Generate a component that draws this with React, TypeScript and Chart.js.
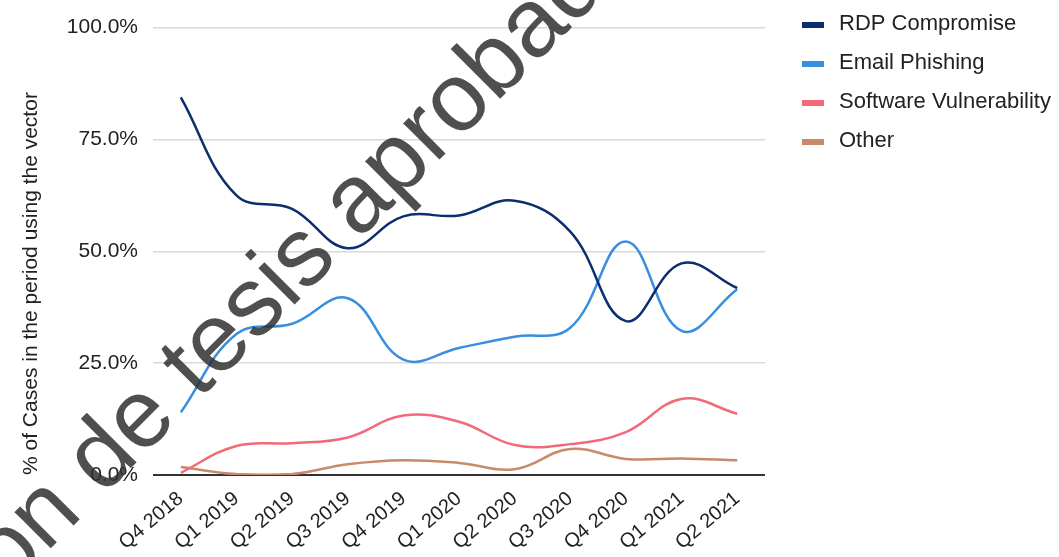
import React, { useEffect, useRef } from "react";
import { Chart, registerables } from "chart.js";

Chart.register(...registerables);

const quarters = [
  "Q4 2018", "Q1 2019", "Q2 2019", "Q3 2019", "Q4 2019", "Q1 2020",
  "Q2 2020", "Q3 2020", "Q4 2020", "Q1 2021", "Q2 2021",
];
const rdpCompromise = [84.4, 62.5, 59.5, 50.7, 57.8, 58.0, 61.3, 54.4, 34.4, 47.3, 41.8];
const emailPhishing = [14.0, 31.5, 33.8, 39.5, 25.8, 28.4, 30.9, 32.9, 52.2, 32.2, 41.5];
const softwareVulnerability = [0.5, 6.5, 7.1, 8.4, 13.3, 11.9, 6.7, 6.9, 9.6, 17.0, 13.7];
const otherVector = [1.8, 0.2, 0.2, 2.4, 3.3, 2.7, 1.3, 5.8, 3.6, 3.7, 3.3];
const yTicks = [0, 25, 50, 75, 100];

const seriesNames = ["RDP Compromise", "Email Phishing", "Software Vulnerability", "Other"];
const seriesColors = ["#0b2e6f", "#3a8ee0", "#f06a78", "#c98a6c"];
const seriesValues = [rdpCompromise, emailPhishing, softwareVulnerability, otherVector];

const watermarkText = "ción de tesis aprobada";
const FONT = "'Liberation Sans', Arial, sans-serif";

// Legend drawn to the right of the plot area: short colour bar + label
const sideLegend = {
  id: "sideLegend",
  afterDraw(chart: any) {
    const { ctx } = chart;
    ctx.save();
    ctx.font = `22px ${FONT}`;
    ctx.textBaseline = "middle";
    ctx.textAlign = "left";
    chart.data.datasets.forEach((ds: any, i: number) => {
      const y = 25 + i * 39;
      ctx.fillStyle = ds.borderColor;
      ctx.fillRect(802, y - 3, 22, 6);
      ctx.fillStyle = "#222";
      ctx.fillText(ds.label, 839, y - 1);
    });
    ctx.restore();
  },
};

// Diagonal watermark across the plot
const watermark = {
  id: "watermark",
  afterDraw(chart: any) {
    const { ctx } = chart;
    ctx.save();
    ctx.font = `97px ${FONT}`;
    ctx.fillStyle = "rgba(48,48,48,0.85)";
    ctx.textBaseline = "alphabetic";
    ctx.translate(137, 462);
    ctx.rotate(-Math.PI / 4);
    const x0 = -ctx.measureText("ción d").width + 6;
    ctx.fillText(watermarkText, x0, 0);
    ctx.restore();
  },
};

export default function App() {
  const ref = useRef<HTMLCanvasElement>(null);

  useEffect(() => {
    if (!ref.current) return;
    const chart = new Chart(ref.current, {
      type: "line",
      data: {
        labels: quarters,
        datasets: seriesNames.map((name, i) => ({
          label: name,
          data: seriesValues[i],
          borderColor: seriesColors[i],
          backgroundColor: seriesColors[i],
          borderWidth: 2.5,
          pointRadius: 0,
          tension: 0.4,
          fill: false,
        })),
      },
      options: {
        animation: false,
        responsive: false,
        layout: { padding: { left: 0, right: 294, top: 24, bottom: 0 } },
        plugins: { legend: { display: false }, tooltip: { enabled: false } },
        scales: {
          x: {
            offset: true,
            grid: { display: false },
            border: { display: false },
            afterFit: (s: any) => { s.height = 82; },
            ticks: {
              minRotation: 40,
              maxRotation: 40,
              padding: 4,
              color: "#222",
              font: { family: FONT, size: 20 },
            },
          },
          y: {
            min: 0,
            max: 100,
            afterFit: (s: any) => { s.width = 153; },
            afterBuildTicks: (s: any) => { s.ticks = yTicks.map((v) => ({ value: v })); },
            border: { display: false },
            grid: {
              drawTicks: false,
              color: (c: any) => (c.tick && c.tick.value === 0 ? "#333" : "#d9d9d9"),
              lineWidth: (c: any) => (c.tick && c.tick.value === 0 ? 2 : 1.5),
            },
            ticks: {
              padding: 15,
              color: "#222",
              font: { family: FONT, size: 21 },
              callback: (v: any) => `${Number(v).toFixed(1)}%`,
            },
            title: {
              display: true,
              text: "% of Cases in the period using the vector",
              align: "start",
              color: "#222",
              font: { family: FONT, size: 21 },
              padding: { top: 19, bottom: 0 },
            },
          },
        },
      },
      plugins: [sideLegend, watermark],
    });
    return () => chart.destroy();
  }, []);

  return (
    <div style={{ position: "fixed", left: 0, top: 0, width: 1059, height: 557, background: "#fff" }}>
      <canvas ref={ref} width={1059} height={557} />
    </div>
  );
}
